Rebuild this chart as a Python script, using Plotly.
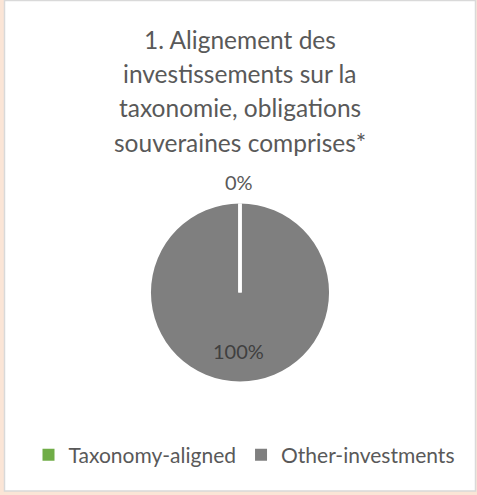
import math
import plotly.graph_objects as go

# Portfolio split used for the pie
labels = ["Taxonomy-aligned", "Other-investments"]
values = [0, 100]
colors = ["#70AD47", "#7F7F7F"]

title_lines = [
    "1. Alignement des",
    "investissements sur la",
    "taxonomie, obligations",
    "souveraines comprises*",
]

W, H = 477, 495
FONT = "Lato, 'Open Sans', sans-serif"

# pie geometry in pixels (from the top-left corner of the page)
CX, CY, R = 240, 292.5, 89

fig = go.Figure(
    go.Pie(
        labels=labels,
        values=values,
        sort=False,
        direction="clockwise",
        rotation=0,
        marker=dict(colors=colors, line=dict(color="white", width=0)),
        textinfo="none",
        hoverinfo="label+percent",
        domain=dict(x=[(CX - R) / W, (CX + R) / W],
                    y=[(H - CY - R) / H, (H - CY + R) / H]),
        showlegend=True,
    )
)


def px_x(x):
    return x / W


def px_y(y):
    return 1 - y / H


# chart frame plus a white boundary at each slice start angle
total = sum(values)
shapes = [
    dict(
        type="rect", xref="paper", yref="paper",
        x0=px_x(4.5), x1=px_x(475.5), y0=px_y(491), y1=px_y(0.5),
        fillcolor="white", line=dict(color="#D9D9D9", width=1.5),
        layer="below",
    )
]
annotations = []
cum = 0
for lab, v in zip(labels, values):
    start = cum / total * 2 * math.pi
    mid = (cum + v / 2) / total * 2 * math.pi
    cum += v
    shapes.append(dict(
        type="line", xref="paper", yref="paper",
        x0=px_x(CX), y0=px_y(CY),
        x1=px_x(CX + R * math.sin(start)), y1=px_y(CY - R * math.cos(start)),
        line=dict(color="white", width=3.5), layer="above",
    ))
    frac = v / total
    outside = frac < 0.05
    k = 1.24 if outside else 0.66
    annotations.append(dict(
        text=f"{frac:.0%}",
        xref="paper", yref="paper",
        x=px_x(CX - 1 + R * k * math.sin(mid)),
        y=px_y(CY - R * k * math.cos(mid)),
        xanchor="center", yanchor="middle", showarrow=False,
        font=dict(size=20, family=FONT,
                  color="#595959" if outside else "#404040"),
    ))

# title, one annotation per line
for i, line in enumerate(title_lines):
    annotations.append(dict(
        text=line, xref="paper", yref="paper",
        x=px_x(240), y=px_y(40 + 34 * i),
        xanchor="center", yanchor="middle", showarrow=False,
        font=dict(size=24.5, color="#595959", family=FONT),
    ))

fig.update_layout(
    width=W,
    height=H,
    margin=dict(l=0, r=0, t=0, b=0),
    paper_bgcolor="#FBE5D6",
    font=dict(family=FONT, color="#595959"),
    legend=dict(
        orientation="h",
        x=px_x(244),
        xanchor="center",
        y=px_y(455),
        yanchor="middle",
        font=dict(size=21, color="#595959", family=FONT),
        bgcolor="rgba(0,0,0,0)",
        tracegroupgap=0,
    ),
    shapes=shapes,
    annotations=annotations,
)

fig.write_html("out.html")
